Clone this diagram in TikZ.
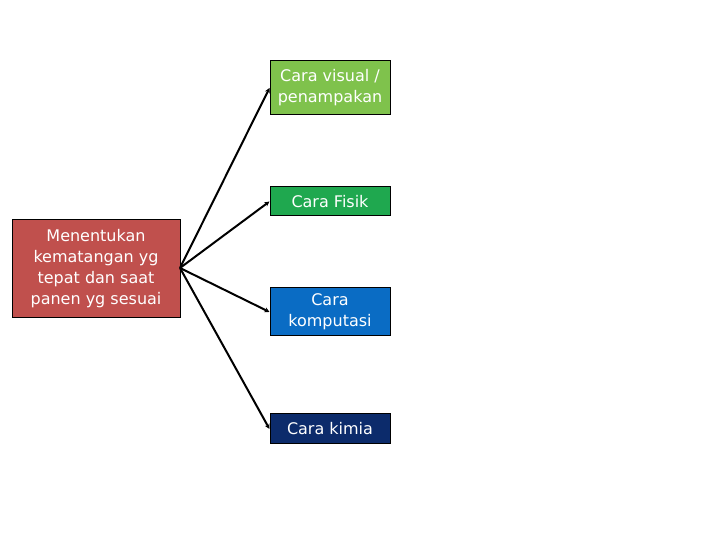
\documentclass[tikz,border=0pt]{standalone}
\usepackage{fontspec}
\setmainfont{DejaVu Sans}
\usetikzlibrary{arrows.meta}
\definecolor{cLight}{HTML}{7FC24C}
\definecolor{cGreen}{HTML}{1FA84F}
\definecolor{cBlue}{HTML}{0A6CC4}
\definecolor{cNavy}{HTML}{0C2B6B}
\definecolor{cRed}{HTML}{C0504D}
\begin{document}
\begin{tikzpicture}[x=1pt,y=1pt,
  box/.style={draw=black, line width=1pt, text=white, align=center, inner sep=0pt, font=\fontsize{16}{21}\selectfont},
  conn/.style={line width=2pt, -{Stealth[length=5pt,width=5pt]}}]
\useasboundingbox (0,0) rectangle (720,540);
\node[box, fill=cRed, minimum width=168pt, minimum height=98pt] (src) at (96,271) {Menentukan\\kematangan yg\\tepat dan saat\\panen yg sesuai};
\node[box, fill=cLight, minimum width=120pt, minimum height=54pt] (b1) at (330,452) {Cara visual /\\penampakan};
\node[box, fill=cGreen, minimum width=120pt, minimum height=29pt] (b2) at (330,338.5) {Cara Fisik};
\node[box, fill=cBlue, minimum width=120pt, minimum height=48pt] (b3) at (330,228) {Cara\\komputasi};
\node[box, fill=cNavy, minimum width=120pt, minimum height=30pt] (b4) at (330,111) {Cara kimia};
\coordinate (o) at (180,272);
\draw[conn] (o) -- (b1.west);
\draw[conn] (o) -- (b2.west);
\draw[conn] (o) -- (b3.west);
\draw[conn] (o) -- (b4.west);
\end{tikzpicture}
\end{document}
